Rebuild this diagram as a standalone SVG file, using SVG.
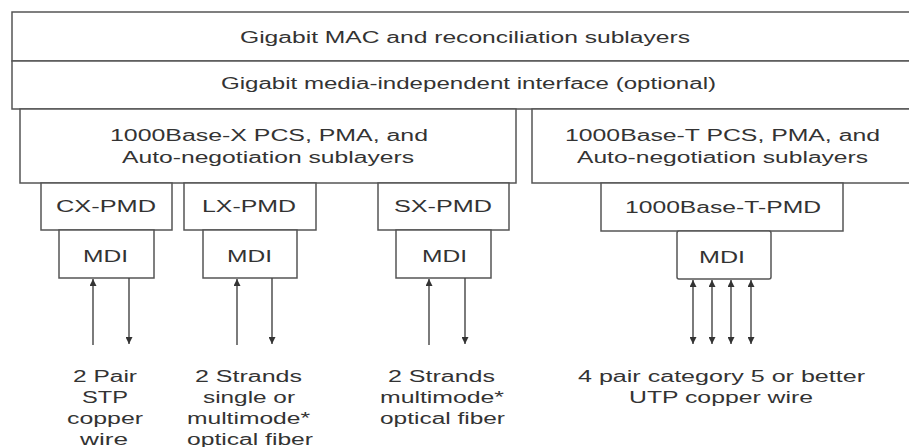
<svg xmlns="http://www.w3.org/2000/svg" width="909" height="447" viewBox="0 0 909 447">
<style>
.box{fill:#fff;stroke:#555;stroke-width:1.5}
.t{font-family:"Liberation Sans",Arial,sans-serif;font-size:16px;fill:#333}
.c{stroke:#444;stroke-width:1.4;fill:none}
</style>
<defs>
<marker id="ah" viewBox="0 0 10 10" refX="10" refY="5" markerWidth="7" markerHeight="7" markerUnits="userSpaceOnUse" orient="auto-start-reverse">
<path d="M0,0 L10,5 L0,10 z" fill="#333"/>
</marker>
</defs>
<rect width="909" height="447" fill="#fff"/>
<g id="mac">
<rect class="box" x="12" y="12" width="910" height="49"/>
<text class="t" x="240" y="43" textLength="450" lengthAdjust="spacingAndGlyphs">Gigabit MAC and reconciliation sublayers</text>
</g>
<g id="gmii">
<rect class="box" x="12" y="61" width="910" height="48"/>
<text class="t" x="221" y="89" textLength="495" lengthAdjust="spacingAndGlyphs">Gigabit media-independent interface (optional)</text>
</g>
<g id="basex">
<rect class="box" x="20" y="109" width="496" height="74"/>
<text class="t" x="110" y="141" textLength="318" lengthAdjust="spacingAndGlyphs">1000Base-X PCS, PMA, and</text>
<text class="t" x="122" y="163" textLength="292" lengthAdjust="spacingAndGlyphs">Auto-negotiation sublayers</text>
</g>
<g id="baset">
<rect class="box" x="532" y="109" width="390" height="74"/>
<text class="t" x="565" y="141" textLength="315" lengthAdjust="spacingAndGlyphs">1000Base-T PCS, PMA, and</text>
<text class="t" x="577" y="163" textLength="291" lengthAdjust="spacingAndGlyphs">Auto-negotiation sublayers</text>
</g>
<g id="cxpmd">
<rect class="box" x="41" y="183" width="131" height="47"/>
<text class="t" x="56" y="212" textLength="100" lengthAdjust="spacingAndGlyphs">CX-PMD</text>
</g>
<g id="lxpmd">
<rect class="box" x="184" y="183" width="132" height="47"/>
<text class="t" x="202" y="212" textLength="94" lengthAdjust="spacingAndGlyphs">LX-PMD</text>
</g>
<g id="sxpmd">
<rect class="box" x="378" y="183" width="131" height="47"/>
<text class="t" x="394" y="212" textLength="98" lengthAdjust="spacingAndGlyphs">SX-PMD</text>
</g>
<g id="tpmd">
<rect class="box" x="601" y="183" width="242" height="48"/>
<text class="t" x="625" y="213" textLength="196" lengthAdjust="spacingAndGlyphs">1000Base-T-PMD</text>
</g>
<g id="cxmdi">
<rect class="box" x="59" y="230" width="95" height="48"/>
<text class="t" x="83" y="262" textLength="45" lengthAdjust="spacingAndGlyphs">MDI</text>
</g>
<g id="lxmdi">
<rect class="box" x="203" y="230" width="94" height="48"/>
<text class="t" x="227" y="262" textLength="45" lengthAdjust="spacingAndGlyphs">MDI</text>
</g>
<g id="sxmdi">
<rect class="box" x="396" y="230" width="95" height="48"/>
<text class="t" x="422" y="262" textLength="45" lengthAdjust="spacingAndGlyphs">MDI</text>
</g>
<g id="tmdi">
<rect class="box" x="677" y="231" width="94" height="48" rx="2"/>
<text class="t" x="699" y="263" textLength="46" lengthAdjust="spacingAndGlyphs">MDI</text>
</g>
<g id="connectors">
<line class="c" x1="93" y1="345" x2="93" y2="279" marker-end="url(#ah)"/>
<line class="c" x1="129" y1="278" x2="129" y2="344" marker-end="url(#ah)"/>
<line class="c" x1="237" y1="345" x2="237" y2="279" marker-end="url(#ah)"/>
<line class="c" x1="272" y1="278" x2="272" y2="344" marker-end="url(#ah)"/>
<line class="c" x1="429" y1="345" x2="429" y2="279" marker-end="url(#ah)"/>
<line class="c" x1="465" y1="278" x2="465" y2="344" marker-end="url(#ah)"/>
<line class="c" x1="693" y1="280" x2="693" y2="344" marker-start="url(#ah)" marker-end="url(#ah)"/>
<line class="c" x1="712" y1="280" x2="712" y2="344" marker-start="url(#ah)" marker-end="url(#ah)"/>
<line class="c" x1="731" y1="280" x2="731" y2="344" marker-start="url(#ah)" marker-end="url(#ah)"/>
<line class="c" x1="751" y1="280" x2="751" y2="344" marker-start="url(#ah)" marker-end="url(#ah)"/>
</g>
<g id="labels">
<text class="t" x="73" y="382" textLength="64" lengthAdjust="spacingAndGlyphs">2 Pair</text>
<text class="t" x="82" y="403" textLength="46" lengthAdjust="spacingAndGlyphs">STP</text>
<text class="t" x="67" y="424" textLength="76" lengthAdjust="spacingAndGlyphs">copper</text>
<text class="t" x="80" y="445" textLength="48" lengthAdjust="spacingAndGlyphs">wire</text>
<text class="t" x="195" y="382" textLength="107" lengthAdjust="spacingAndGlyphs">2 Strands</text>
<text class="t" x="203" y="403" textLength="92" lengthAdjust="spacingAndGlyphs">single or</text>
<text class="t" x="187" y="424" textLength="123" lengthAdjust="spacingAndGlyphs">multimode*</text>
<text class="t" x="187" y="445" textLength="126" lengthAdjust="spacingAndGlyphs">optical fiber</text>
<text class="t" x="388" y="382" textLength="107" lengthAdjust="spacingAndGlyphs">2 Strands</text>
<text class="t" x="380" y="403" textLength="124" lengthAdjust="spacingAndGlyphs">multimode*</text>
<text class="t" x="380" y="424" textLength="125" lengthAdjust="spacingAndGlyphs">optical fiber</text>
<text class="t" x="578" y="382" textLength="287" lengthAdjust="spacingAndGlyphs">4 pair category 5 or better</text>
<text class="t" x="629" y="403" textLength="184" lengthAdjust="spacingAndGlyphs">UTP copper wire</text>
</g>
</svg>
